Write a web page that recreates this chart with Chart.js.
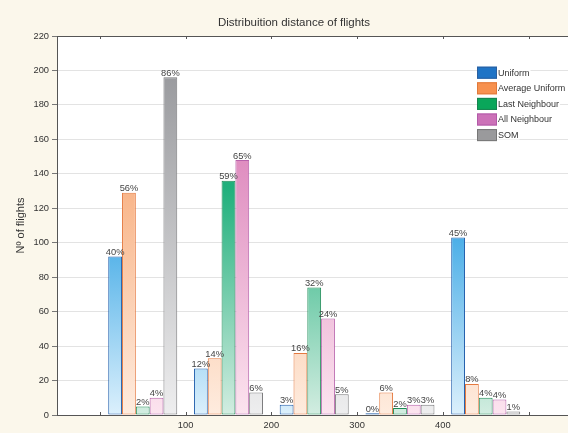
<!DOCTYPE html>
<html>
<head>
<meta charset="utf-8">
<script src="https://cdn.jsdelivr.net/npm/chart.js@4.4.1/dist/chart.umd.min.js"></script>
<style>
  html, body { margin: 0; padding: 0; background: #fbf7eb; }
  canvas { display: block; }
</style>
</head>
<body>
<canvas id="chart" width="568" height="433"></canvas>
<script>
// Distance bins (centres of 100-unit bins) and axis tick labels
const binCenters = [50, 150, 250, 350, 450];
const xTickValues = [0, 100, 200, 300, 400, 500];
const xTickLabels = ['', '100', '200', '300', '400', ''];

// Number of flights per bin for each method
const seriesNames = ['Uniform', 'Average Uniform', 'Last Neighbour', 'All Neighbour', 'SOM'];
const uniform        = [92, 27, 6, 1, 103];
const averageUniform = [129, 33, 36, 13, 18];
const lastNeighbour  = [5, 136, 74, 4, 10];
const allNeighbour   = [10, 148, 56, 6, 9];
const som            = [196, 13, 12, 6, 2];
const totalFlights = 229;

const seriesValues = [uniform, averageUniform, lastNeighbour, allNeighbour, som];

// Per-series colours: gradient stops (bottom -> top of the plot), bar outline, legend key
const palette = [
  { stops: [[0, '#dcf0fc'], [0.5, '#42aae6'], [1, '#1a86d8']], border: '#2360ad', key: '#1f74c6', keyBorder: '#2a5f9e' },
  { stops: [[0, '#feecdf'], [1, '#f5904f']],                   border: '#e5793f', key: '#f7914f', keyBorder: '#e0793a' },
  { stops: [[0, '#d3ede1'], [0.6, '#20b07c'], [1, '#0c9e66']], border: '#1d8a55', key: '#0aa65a', keyBorder: '#17834f' },
  { stops: [[0, '#fce4ef'], [1, '#d163a9']],                   border: '#b862ab', key: '#cc72b8', keyBorder: '#b25aa8' },
  { stops: [[0, '#eeeeef'], [1, '#909195']],                   border: '#7b7b7d', key: '#9a9a9c', keyBorder: '#777777' }
];

const FONT = "'Liberation Sans', Arial, sans-serif";
Chart.defaults.font.family = FONT;

function barGradient(chart, i) {
  const y = chart.scales.y;
  if (!chart.chartArea || !y) return palette[i].stops[0][1];
  const g = chart.ctx.createLinearGradient(0, y.getPixelForValue(0), 0, y.getPixelForValue(220));
  palette[i].stops.forEach(([p, c]) => g.addColorStop(p, c));
  return g;
}

// Page background and white plot area
const backdrop = {
  id: 'backdrop',
  beforeDraw(chart) {
    const { ctx, chartArea: a } = chart;
    ctx.save();
    ctx.fillStyle = '#fbf7eb';
    ctx.fillRect(0, 0, chart.width, chart.height);
    ctx.fillStyle = '#ffffff';
    ctx.fillRect(a.left, a.top, a.right - a.left, a.bottom - a.top);
    ctx.restore();
  }
};

// Top frame line and inward tick marks on the bottom and top edges
const frame = {
  id: 'frame',
  afterDatasetsDraw(chart) {
    const { ctx, chartArea: a, scales: { x } } = chart;
    ctx.save();
    ctx.strokeStyle = '#555';
    ctx.lineWidth = 1;
    ctx.beginPath();
    ctx.moveTo(a.left, a.top + 0.5);
    ctx.lineTo(a.right, a.top + 0.5);
    x.ticks.forEach(t => {
      const px = Math.round(x.getPixelForValue(t.value)) + 0.5;
      ctx.moveTo(px, a.bottom);
      ctx.lineTo(px, a.bottom - 3);
      ctx.moveTo(px, a.top);
      ctx.lineTo(px, a.top + 3);
    });
    ctx.stroke();
    ctx.restore();
  }
};

// Percentage of all flights written above each bar
const percentLabels = {
  id: 'percentLabels',
  afterDatasetsDraw(chart) {
    const { ctx } = chart;
    ctx.save();
    ctx.font = '9.3px ' + FONT;
    ctx.fillStyle = '#444';
    ctx.textAlign = 'center';
    ctx.textBaseline = 'alphabetic';
    chart.data.datasets.forEach((ds, di) => {
      chart.getDatasetMeta(di).data.forEach((bar, j) => {
        const pct = Math.round(ds.data[j] / totalFlights * 100);
        ctx.fillText(pct + '%', bar.x, bar.y - 1.5);
      });
    });
    ctx.restore();
  }
};

// Legend drawn inside the plot, upper right
const keyBox = {
  id: 'keyBox',
  afterDraw(chart) {
    const { ctx, chartArea: a } = chart;
    const x0 = a.right - 91, y0 = a.top + 30.7, step = 15.6, bw = 20, bh = 12;
    ctx.save();
    ctx.font = '9px ' + FONT;
    ctx.textBaseline = 'middle';
    ctx.textAlign = 'left';
    chart.data.datasets.forEach((ds, i) => {
      const y = y0 + i * step;
      const w = ctx.measureText(ds.label).width;
      ctx.fillStyle = '#ffffff';
      ctx.fillRect(x0 + bw, y + 1.5, w + 2, bh - 3);
      ctx.fillStyle = palette[i].key;
      ctx.fillRect(x0, y, bw, bh);
      ctx.strokeStyle = palette[i].keyBorder;
      ctx.lineWidth = 1;
      ctx.strokeRect(x0 + 0.5, y + 0.5, bw - 1, bh - 1);
      ctx.fillStyle = '#333';
      ctx.fillText(ds.label, x0 + bw + 1, y + bh / 2 + 0.5);
    });
    ctx.restore();
  }
};

// Chart heading
const heading = {
  id: 'heading',
  afterDraw(chart) {
    const { ctx } = chart;
    ctx.save();
    ctx.font = '11.5px ' + FONT;
    ctx.fillStyle = '#333';
    ctx.textAlign = 'center';
    ctx.textBaseline = 'middle';
    ctx.fillText('Distribuition distance of flights', 294, 23);
    ctx.restore();
  }
};

new Chart(document.getElementById('chart'), {
  type: 'bar',
  data: {
    labels: binCenters,
    datasets: seriesNames.map((name, i) => ({
      label: name,
      data: seriesValues[i],
      backgroundColor: ctx => barGradient(ctx.chart, i),
      borderColor: palette[i].border,
      borderWidth: 1,
      borderSkipped: false,
      categoryPercentage: 0.805,
      barPercentage: 1.0
    }))
  },
  options: {
    responsive: false,
    animation: false,
    devicePixelRatio: 1,
    layout: { padding: { top: 36, left: 0, right: 0, bottom: 0 } },
    plugins: {
      legend: { display: false },
      title: { display: false },
      tooltip: { enabled: false }
    },
    scales: {
      x: {
        type: 'linear',
        position: 'bottom',
        offset: false,
        min: -50,
        max: 546,
        afterBuildTicks: s => { s.ticks = xTickValues.map(v => ({ value: v })); },
        afterFit: s => { s.height = 18; },
        grid: { display: false, drawTicks: false, offset: false },
        border: { display: true, color: '#555', width: 1 },
        ticks: {
          callback: (v, i) => xTickLabels[i],
          color: '#333',
          font: { size: 9.3 },
          padding: 5,
          maxRotation: 0,
          autoSkip: false
        }
      },
      y: {
        min: 0,
        max: 220,
        afterFit: s => { s.width = 57; },
        grid: { color: '#e3e3e3', tickLength: 5, tickColor: '#777', drawTicks: true },
        border: { display: true, color: '#555', width: 1 },
        ticks: { stepSize: 20, color: '#333', font: { size: 9.3 }, padding: 3 },
        title: {
          display: true,
          text: 'Nº of flights',
          color: '#333',
          font: { size: 11 },
          padding: { top: 14.4, bottom: 0 }
        }
      }
    }
  },
  plugins: [backdrop, frame, percentLabels, keyBox, heading]
});
</script>
</body>
</html>
